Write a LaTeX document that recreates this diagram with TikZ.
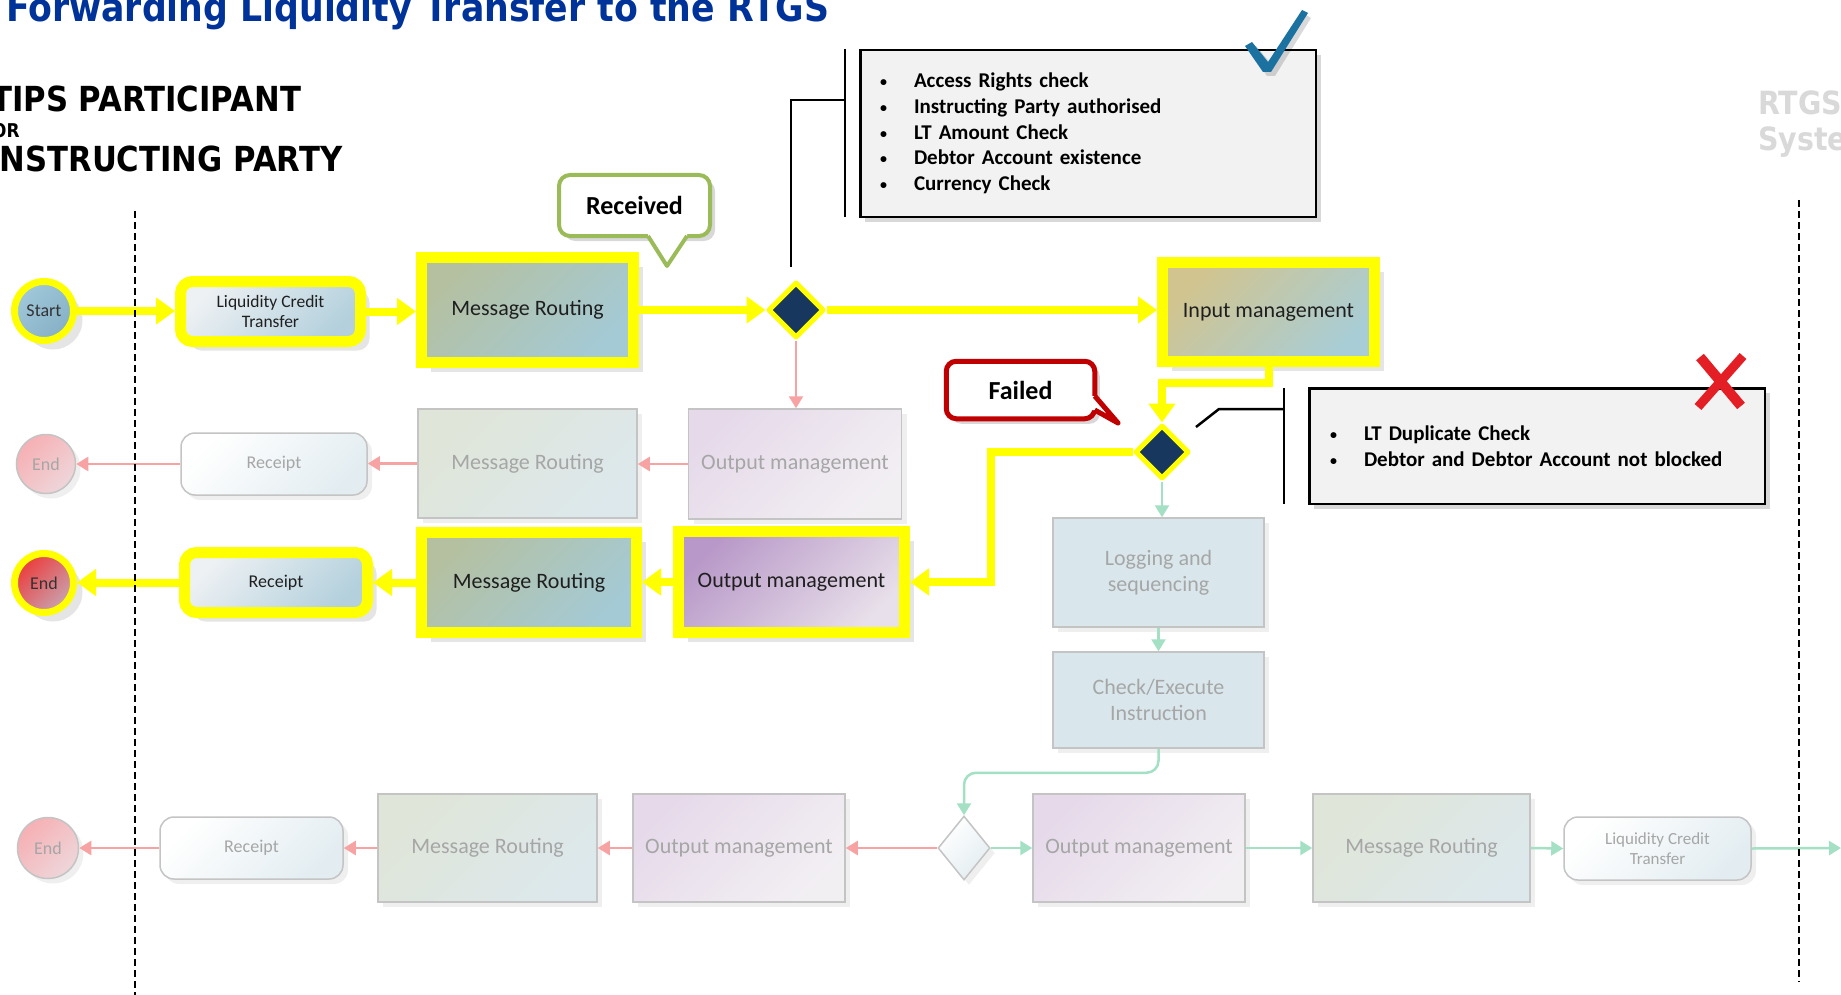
\documentclass[tikz,border=0pt]{standalone}
\usepackage{fontspec}
\setmainfont{Carlito}
\newfontfamily\hdrfont{DejaVu Sans}[FakeStretch=0.89]
\usetikzlibrary{shapes.geometric,shadows,arrows.meta,calc}

\definecolor{hlyellow}{HTML}{FFFF00}
\definecolor{navy}{HTML}{17375E}
\definecolor{titleblue}{HTML}{00339A}
\definecolor{mrA}{HTML}{B5C0A0}
\definecolor{mrB}{HTML}{A4CAD6}
\definecolor{imA}{HTML}{D2C48E}
\definecolor{imB}{HTML}{A8CDD6}
\definecolor{omA}{HTML}{B898C8}
\definecolor{omB}{HTML}{E8E0EA}
\definecolor{lcA}{HTML}{EEF1F4}
\definecolor{lcB}{HTML}{B3D0DC}
\definecolor{stA}{HTML}{A0C8DA}
\definecolor{stB}{HTML}{86B0C6}
\definecolor{enA}{HTML}{EC3C3C}
\definecolor{enB}{HTML}{C8A4B0}
\definecolor{fmrA}{HTML}{DFE5D8}
\definecolor{fmrB}{HTML}{DDE8EC}
\definecolor{fomA}{HTML}{E6DAEA}
\definecolor{fomB}{HTML}{F2EFF3}
\definecolor{flcA}{HTML}{FFFFFF}
\definecolor{flcB}{HTML}{E3EDF1}
\definecolor{flog}{HTML}{D9E7ED}
\definecolor{fenA}{HTML}{F6B0B4}
\definecolor{fenB}{HTML}{EED6DA}
\definecolor{fgray}{HTML}{C4C4C4}
\definecolor{ftext}{HTML}{A6A6A6}
\definecolor{fred}{HTML}{F7A3A3}
\definecolor{fgreen}{HTML}{A3E0C4}
\definecolor{rcvgreen}{HTML}{9BBB59}
\definecolor{failred}{HTML}{C00000}
\definecolor{boxgray}{HTML}{F2F2F2}
\definecolor{checkblue}{HTML}{1B72A0}
\definecolor{xred}{HTML}{E31E24}
\definecolor{rtgsgray}{HTML}{D9D9D9}

\tikzset{
  box/.style={rectangle, inner sep=0pt, align=center, font=\fontsize{22}{26}\selectfont, text=black!88},
  smalltxt/.style={font=\fontsize{18}{21}\selectfont},
  hl/.style={draw=hlyellow, line width=11pt},
  hlsh/.style={drop shadow={opacity=0.2, shadow xshift=9pt, shadow yshift=-9pt}},
  fd/.style={draw=fgray, line width=1.5pt, text=ftext},
  fdsh/.style={drop shadow={opacity=0.12, shadow xshift=5pt, shadow yshift=-5pt}},
  gr/.style 2 args={left color=#1, right color=#2, shading angle=45},
  yarr/.style={draw=hlyellow, line width=8pt, -{Triangle[length=19pt,width=26pt]}},
  rarr/.style={draw=fred, line width=2.5pt, -{Triangle[length=12pt,width=14pt]}},
  garr/.style={draw=fgreen, line width=2.5pt, -{Triangle[length=12pt,width=14pt]}},
  dashline/.style={draw=black, line width=2.2pt, dash pattern=on 7pt off 4pt},
  listbox/.style={rectangle, draw=black, line width=2.5pt, fill=boxgray, inner sep=0pt,
    align=left, font=\fontsize{21}{25.7}\selectfont\bfseries,
    drop shadow={opacity=0.3, shadow xshift=5pt, shadow yshift=-5pt}},
  callbox/.style={rectangle, fill=white, rounded corners=11pt, inner sep=0pt,
    font=\fontsize{26}{30}\selectfont\bfseries,
    drop shadow={opacity=0.3, shadow xshift=5pt, shadow yshift=-5pt}},
  annot/.style={draw=black, line width=2.5pt},
  hdr/.style={anchor=base west, inner sep=0pt, font=\hdrfont\bfseries},
}

\newcommand{\bl}{\makebox[34pt][l]{\raisebox{1pt}{\fontsize{14}{14}\selectfont\textbullet}}}

\begin{document}
\begin{tikzpicture}[x=1pt,y=-1pt]
\useasboundingbox (0,0) rectangle (1841,995);
\fill[white] (0,0) rectangle (1841,995);

% ---------- headings ----------
\node[hdr, text=titleblue, font=\hdrfont\bfseries\fontsize{39}{44}\selectfont] (title) at (6,22) {Forwarding Liquidity Transfer to the RTGS};
\node[hdr, font=\hdrfont\bfseries\fontsize{34.5}{40}\selectfont] (h1) at (-9,112) {TIPS PARTICIPANT};
\node[hdr, font=\hdrfont\bfseries\fontsize{19}{22}\selectfont] (h2) at (-8,138) {OR};
\node[hdr, font=\hdrfont\bfseries\fontsize{34.5}{40}\selectfont] (h3) at (-12,172) {INSTRUCTING PARTY};
\node[hdr, text=rtgsgray, font=\hdrfont\bfseries\fontsize{32}{38}\selectfont] (r1) at (1758,115) {RTGS};
\node[hdr, text=rtgsgray, font=\hdrfont\bfseries\fontsize{32}{38}\selectfont] (r2) at (1758,151) {System};

% ---------- row 1 ----------
\node[circle, minimum size=59pt, inner sep=0pt, draw=hlyellow, line width=7pt, gr={stA}{stB}, hlsh, smalltxt, text=black!80] (start) at (44,311) {Start};
\node[box, hl, hlsh, rounded corners=12pt, gr={lcA}{lcB}, minimum width=180pt, minimum height=60pt, font=\fontsize{17.5}{20.5}\selectfont] (lct1) at (270.5,311.5) {Liquidity Credit\\Transfer};
\node[box, hl, hlsh, gr={mrA}{mrB}, minimum width=212pt, minimum height=105pt] (mr1) at (527.5,310) {Message Routing};
\node[diamond, minimum width=56pt, minimum height=56pt, inner sep=0pt, draw=hlyellow, line width=5pt, fill=navy, line join=round] (d1) at (796,310) {};
\node[box, hl, hlsh, gr={imA}{imB}, minimum width=212pt, minimum height=99pt] (im) at (1268.5,312) {Input management};

% ---------- row 2 (faded) ----------
\node[circle, minimum size=59pt, inner sep=0pt, fd, gr={fenA}{fenB}, fdsh, smalltxt, text=ftext] (end2) at (46,464) {End};
\node[box, fd, fdsh, rounded corners=14pt, gr={flcA}{flcB}, minimum width=186pt, minimum height=62pt, smalltxt] (rc2) at (274,464) {Receipt};
\node[box, fd, fdsh, gr={fmrA}{fmrB}, minimum width=219pt, minimum height=109pt] (mr2) at (527.5,463.5) {Message Routing};
\node[box, fd, fdsh, gr={fomA}{fomB}, minimum width=213pt, minimum height=110pt] (om2) at (795,464) {Output management};

% ---------- row 3 ----------
\node[circle, minimum size=59pt, inner sep=0pt, draw=hlyellow, line width=7pt, gr={enA}{enB}, hlsh, smalltxt, text=black!80] (end3) at (44,583) {End};
\node[box, hl, hlsh, rounded corners=12pt, gr={lcA}{lcB}, minimum width=183pt, minimum height=60pt, smalltxt] (rc3) at (276,582.5) {Receipt};
\node[box, hl, hlsh, gr={mrA}{mrB}, minimum width=215pt, minimum height=100pt] (mr3) at (529,582.5) {Message Routing};
\node[box, hl, hlsh, gr={omA}{omB}, minimum width=226pt, minimum height=101pt] (om3) at (791.5,582) {Output management};

% ---------- right column ----------
\node[diamond, minimum width=54pt, minimum height=54pt, inner sep=0pt, draw=hlyellow, line width=5pt, fill=navy, line join=round] (d2) at (1162,452) {};
\node[box, fd, fdsh, fill=flog, minimum width=211pt, minimum height=109pt] (log) at (1158.5,572.5) {Logging and\\sequencing};
\node[box, fd, fdsh, fill=flog, minimum width=211pt, minimum height=96pt] (chk) at (1158.5,700) {Check/Execute\\Instruction};

% ---------- row 4 (faded) ----------
\node[circle, minimum size=61pt, inner sep=0pt, fd, gr={fenA}{fenB}, fdsh, smalltxt, text=ftext] (end4) at (48,848) {End};
\node[box, fd, fdsh, rounded corners=14pt, gr={flcA}{flcB}, minimum width=183pt, minimum height=62pt, smalltxt] (rc4) at (251.5,848) {Receipt};
\node[box, fd, fdsh, gr={fmrA}{fmrB}, minimum width=219pt, minimum height=108pt] (mr4) at (487.5,848) {Message Routing};
\node[box, fd, fdsh, gr={fomA}{fomB}, minimum width=212pt, minimum height=108pt] (om4) at (739,848) {Output management};
\node[diamond, minimum width=52pt, minimum height=64pt, inner sep=0pt, fd, gr={white}{flcB}, fdsh] (d3) at (964,848) {};
\node[box, fd, fdsh, gr={fomA}{fomB}, minimum width=212pt, minimum height=108pt] (om5) at (1139,848) {Output management};
\node[box, fd, fdsh, gr={fmrA}{fmrB}, minimum width=217pt, minimum height=108pt] (mr5) at (1421.5,848) {Message Routing};
\node[box, fd, fdsh, rounded corners=14pt, gr={flcA}{flcB}, minimum width=187pt, minimum height=63pt, font=\fontsize{17}{20.5}\selectfont] (lct4) at (1657.5,848.5) {Liquidity Credit\\Transfer};
\coordinate (exit) at (1841,848);

% ---------- connectors ----------
\draw[yarr] (start.east) -- (start.east -| lct1.west);
\draw[yarr] (lct1.east) -- (lct1.east -| mr1.west);
\draw[yarr] (mr1.east) -- (mr1.east -| d1.west);
\draw[yarr] (d1.east) -- (d1.east -| im.west);
\draw[rarr] (d1.south) -- (d1.south |- om2.north);
\draw[rarr] (om2.west) -- (om2.west -| mr2.east);
\draw[rarr] (mr2.west) -- (mr2.west -| rc2.east);
\draw[rarr] (rc2.west) -- (rc2.west -| end2.east);

\draw[yarr] (im.south) -- ++(0,16) -| (d2.north);
\draw[yarr] (d2.west) -- ++(-142,0) |- (om3.east);
\draw[yarr] (om3.west) -- (om3.west -| mr3.east);
\draw[yarr] (mr3.west) -- (mr3.west -| rc3.east);
\draw[yarr] (rc3.west) -- (rc3.west -| end3.east);

\draw[garr] (d2.south) -- (d2.south |- log.north);
\draw[garr] (log.south) -- (chk.north);
\draw[garr, rounded corners=12pt] (chk.south) -- ++(0,24) -| (d3.north);
\draw[garr] (d3.east) -- (om5.west);
\draw[garr] (om5.east) -- (mr5.west);
\draw[garr] (mr5.east) -- (lct4.west);
\draw[garr] (lct4.east) -- (exit);
\draw[rarr] (d3.west) -- (om4.east);
\draw[rarr] (om4.west) -- (mr4.east);
\draw[rarr] (mr4.west) -- (rc4.east);
\draw[rarr] (rc4.west) -- (end4.east);

% ---------- callouts ----------
\node[callbox, draw=rcvgreen, line width=4pt, minimum width=151pt, minimum height=61pt] (rcv) at (634.5,205.5) {Received};
\fill[white] (648,231) -- (648,236) -- (667,266) -- (687,236) -- (687,231) -- cycle;
\draw[rcvgreen, line width=4pt, line join=round] (648,236) -- (667,266) -- (687,236);

\node[callbox, draw=failred, line width=5pt, minimum width=148.5pt, minimum height=57.5pt, rounded corners=10pt] (fail) at (1020.5,390) {Failed};
\fill[white] (1090,396) -- (1094.75,396) -- (1118,423) -- (1094.75,410) -- (1090,410) -- cycle;
\draw[failred, line width=5pt, line join=round] (1094.75,396) -- (1118,423) -- (1094.75,410);

% ---------- annotation boxes ----------
\node[listbox, minimum width=455.5pt, minimum height=166.5pt, text width=416pt] (list1) at (1088,133.5) {%
\bl Access Rights check\\
\bl Instructing Party authorised\\
\bl LT Amount Check\\
\bl Debtor Account existence\\
\bl Currency Check};
\coordinate (a1) at (791,267);
\coordinate (b1) at (845,100);
\draw[annot] (a1) |- (b1);
\draw[annot] (845,49) -- (845,217);

\node[listbox, minimum width=455.5pt, minimum height=115.5pt, text width=414pt] (list2) at (1537,446) {%
\bl LT Duplicate Check\\
\bl Debtor and Debtor Account not blocked};
\coordinate (a2) at (1196,427);
\coordinate (b2) at (1284,409);
\draw[annot] (a2) -- (1219,409) -- (b2);
\draw[annot] (1284,388) -- (1284,504);

% check mark
\fill[black, opacity=0.15] (1249,50) -- (1256,46) -- (1272,65) -- (1306,15) -- (1311,18) -- (1275,76) -- (1267,76) -- cycle;
\fill[checkblue] (1245,46) -- (1252,42) -- (1268,62) -- (1302,10) -- (1308,13) -- (1271,72) -- (1263,72) -- cycle;
% red cross
\draw[xred, line width=10pt] (1700,357) -- (1741,406);
\draw[xred, line width=9pt] (1743,356) -- (1698,407);

% ---------- swimlane separators ----------
\draw[dashline] (135,211) -- (135,995);
\draw[dashline] (1799,200) -- (1799,982);
\end{tikzpicture}
\end{document}
